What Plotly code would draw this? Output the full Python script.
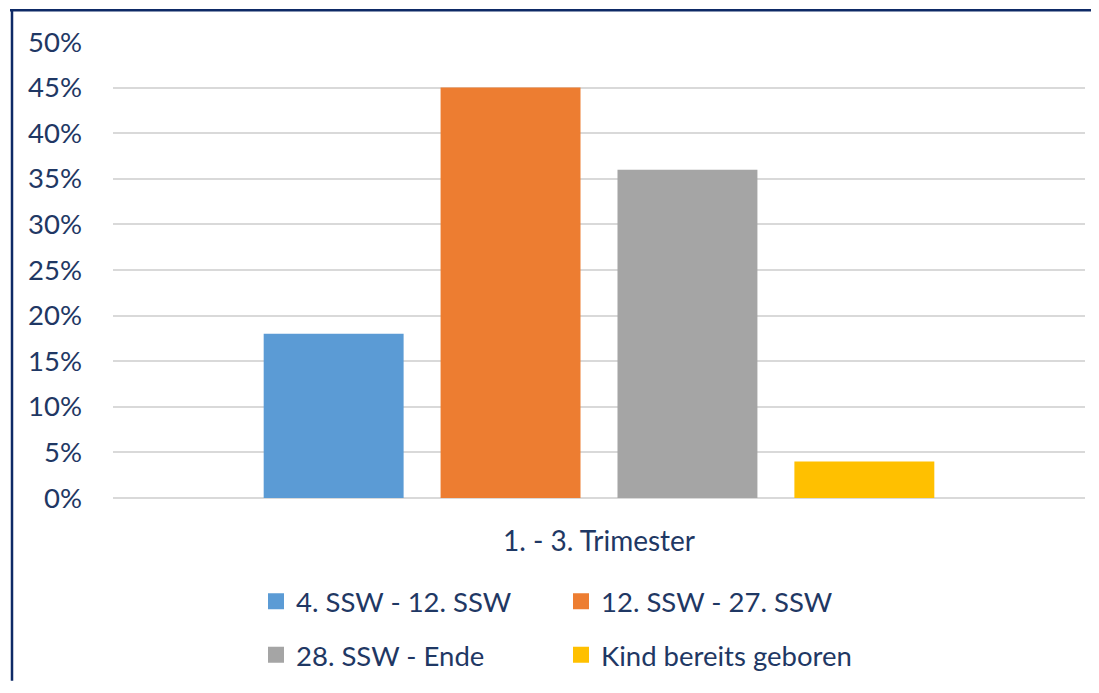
import plotly.graph_objects as go

category = ["1. - 3. Trimester"]
series_names = ["4. SSW - 12. SSW", "12. SSW - 27. SSW", "28. SSW - Ende", "Kind bereits geboren"]
series_values = [0.18, 0.45, 0.36, 0.04]
series_colors = ["#5B9BD5", "#ED7D31", "#A5A5A5", "#FFC000"]
y_ticks = [0, 0.05, 0.10, 0.15, 0.20, 0.25, 0.30, 0.35, 0.40, 0.45, 0.50]

TEXT = "#1F3864"
FONT = "Lato"
FS = 27.5

# page body has an 8px margin on every side; size the figure so the page never scrolls
OFF = 8
W, H = 1099 - 2 * OFF, 693 - 2 * OFF
PL, PR, PT, PB = 113, 1085, 42, 501  # plot area in window pixels
ML, MR, MT, MB = PL - OFF, W - (PR - OFF), PT - OFF, H - (PB - OFF)
PW, PH = W - ML - MR, H - MT - MB

def px_x(p):
    return (p - OFF - ML) / PW

def px_y(p):
    return (H - MB - (p - OFF)) / PH

fig = go.Figure()
for i, (name, val, col) in enumerate(zip(series_names, series_values, series_colors)):
    fig.add_trace(go.Bar(
        x=category, y=[val], name=name, marker=dict(color=col, line=dict(width=0)),
        showlegend=False,
    ))
for i, (name, col) in enumerate(zip(series_names, series_colors)):
    fig.add_trace(go.Scatter(
        x=[None], y=[None], mode="markers", name=name,
        marker=dict(symbol="square", size=18, color=col, line=dict(width=0)),
        legend="legend" if i < 2 else "legend2", hoverinfo="skip",
    ))

legend_common = dict(
    orientation="h", xanchor="left", yanchor="middle",
    font=dict(family=FONT, size=FS, color=TEXT),
    entrywidth=260, entrywidthmode="pixels", itemsizing="trace",
    bgcolor="rgba(0,0,0,0)", traceorder="normal",
)

BORDER = dict(color="#0E2A66", width=2.5)
RIGHT_EDGE = OFF + W       # figure's right edge in window pixels
BOTTOM_EDGE = OFF + H      # figure's bottom edge in window pixels

fig.update_layout(
    width=W, height=H,
    margin=dict(l=ML, r=MR, t=MT, b=MB, pad=0),
    paper_bgcolor="white", plot_bgcolor="white",
    barmode="group", bargap=0.272, bargroupgap=0.209,
    font=dict(family=FONT, size=FS, color=TEXT),
    showlegend=True,
    legend=dict(x=px_x(256), y=px_y(605), **legend_common),
    legend2=dict(x=px_x(256), y=px_y(659), **legend_common),
    xaxis=dict(showgrid=False, showline=False, zeroline=False, ticks="",
               tickfont=dict(family=FONT, size=FS + 0.5, color=TEXT), ticklabelstandoff=24),
    yaxis=dict(range=[0, 0.5], tickvals=y_ticks, tickformat=".0%",
               showgrid=True, gridcolor="#D9D9D9", gridwidth=1.5,
               zeroline=True, zerolinecolor="#D9D9D9", zerolinewidth=1.5,
               showline=False, ticks="", ticklabelstandoff=30,
               tickfont=dict(family=FONT, size=FS, color=TEXT)),
    shapes=[
        dict(type="line", xref="paper", yref="paper",
             x0=px_x(10), x1=px_x(RIGHT_EDGE), y0=px_y(10), y1=px_y(10), line=BORDER, layer="below"),
        dict(type="line", xref="paper", yref="paper",
             x0=px_x(12), x1=px_x(12), y0=px_y(9), y1=px_y(BOTTOM_EDGE), line=BORDER, layer="below"),
    ],
)

fig.write_html("out.html")
